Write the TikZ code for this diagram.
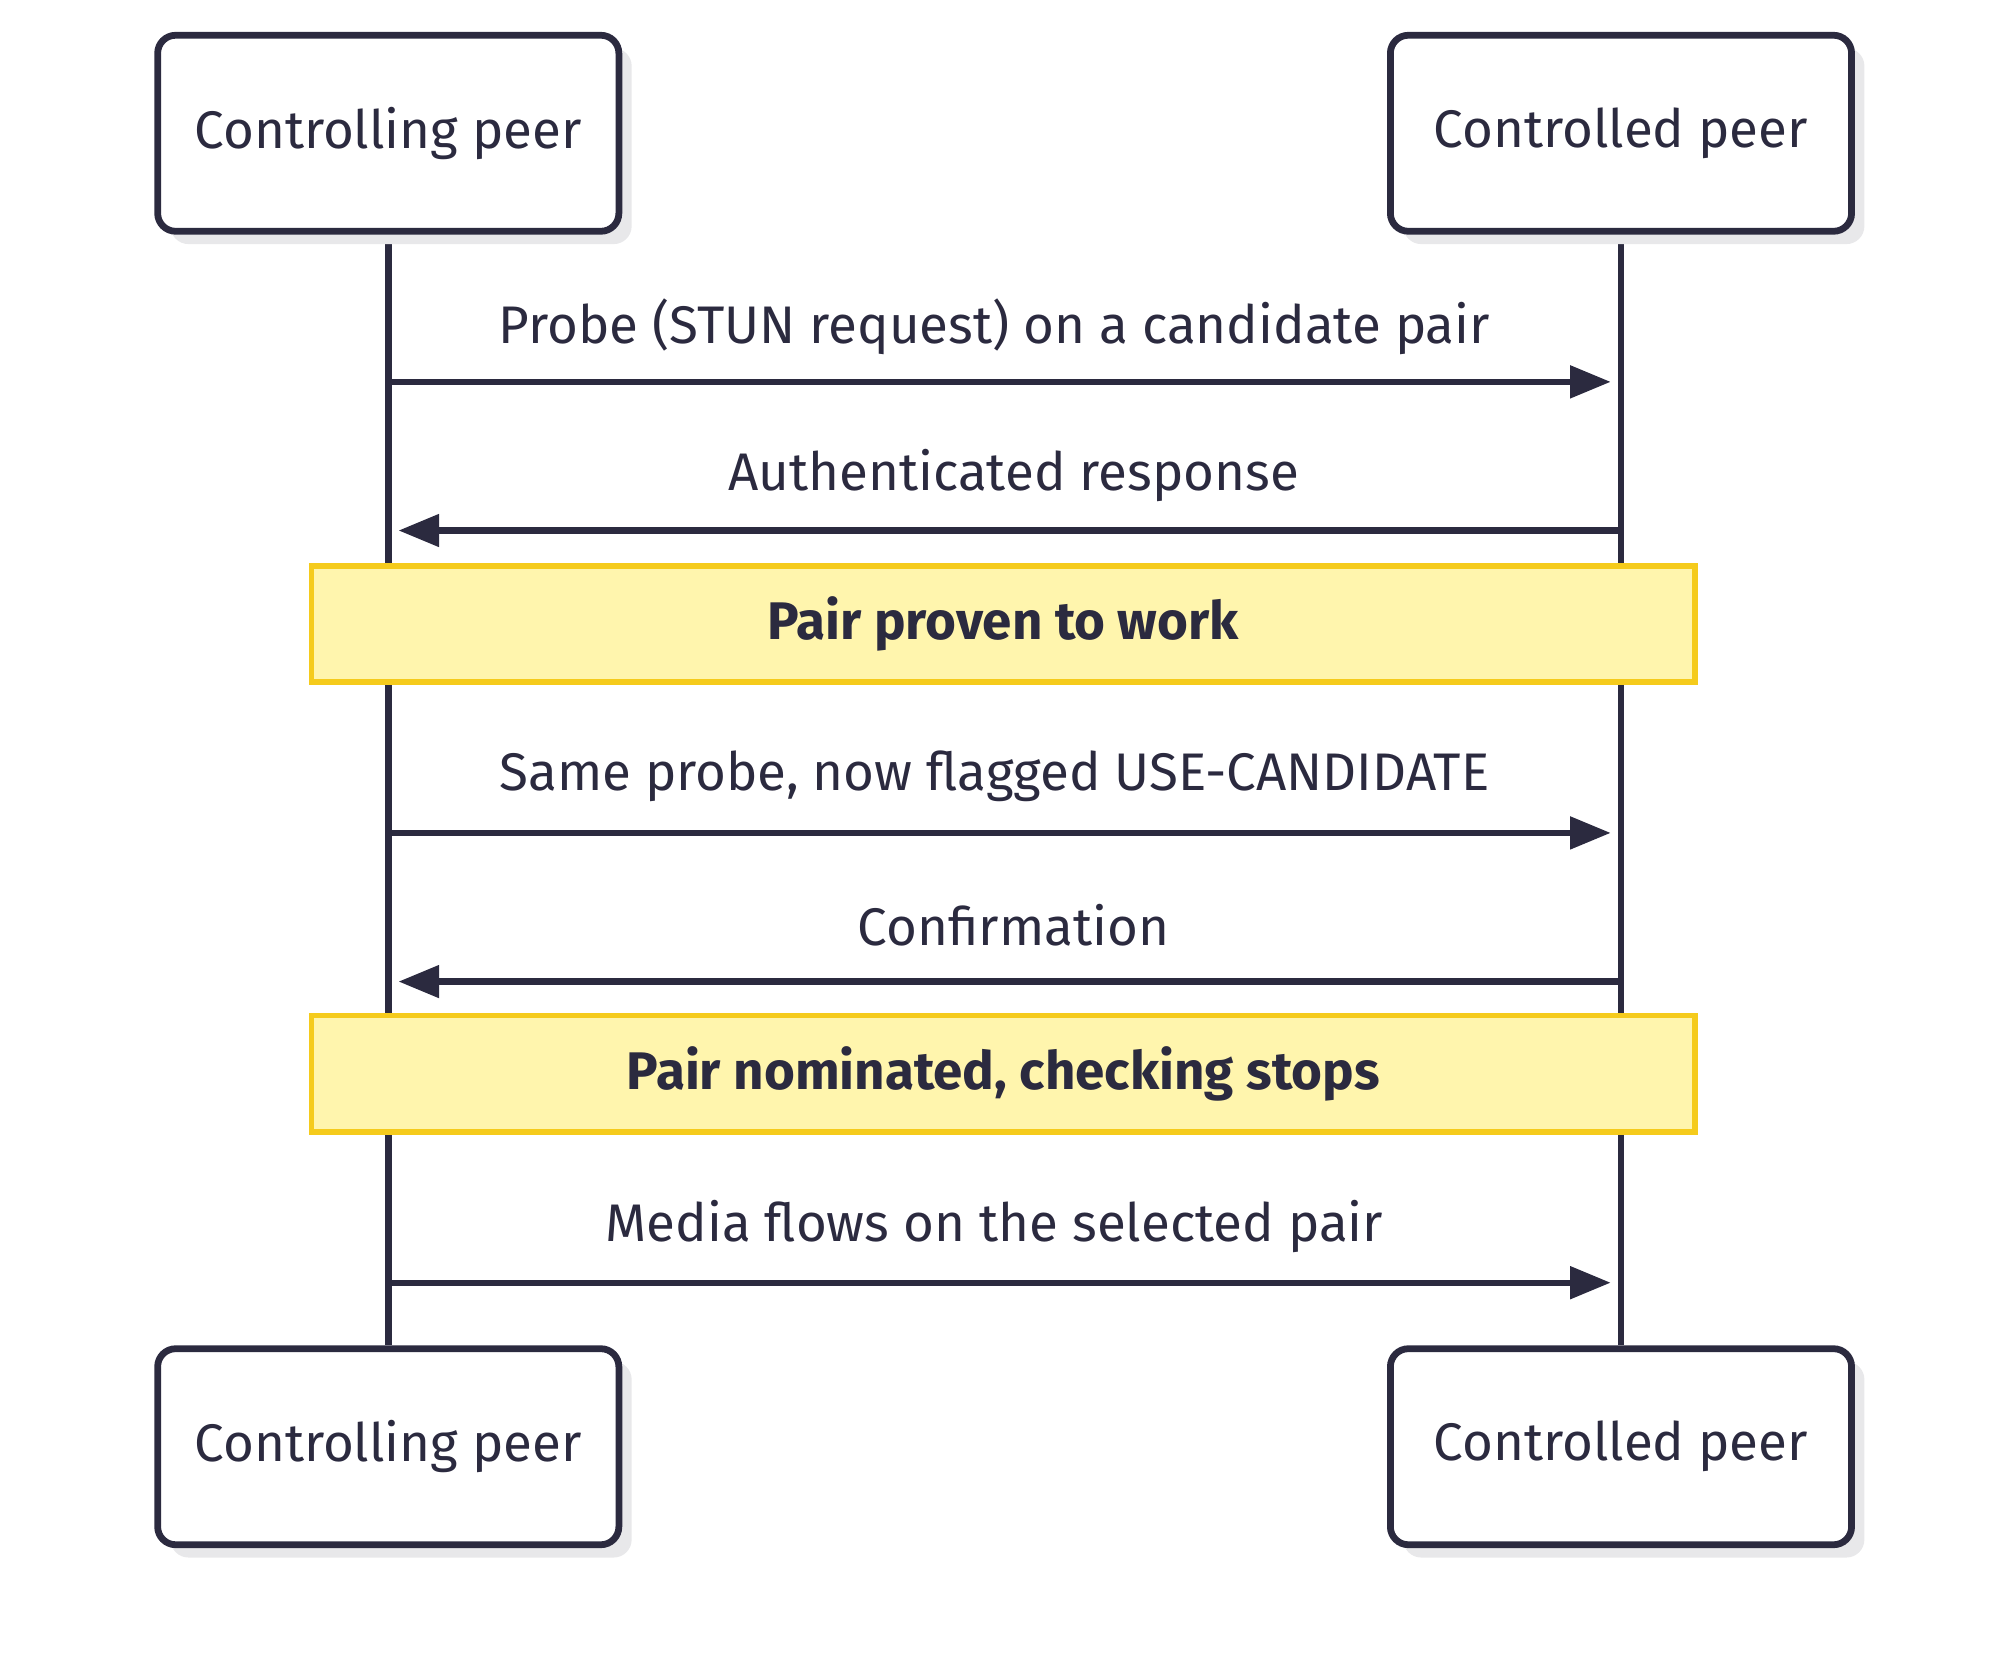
\documentclass[tikz,border=0pt]{standalone}
\usepackage{fontspec}
\setmainfont{Fira Sans}
\usepackage{tikz}
\usetikzlibrary{arrows.meta,positioning,shadows}
\definecolor{ink}{HTML}{2B2A3F}
\definecolor{notefill}{HTML}{FFF5AD}
\definecolor{noteline}{HTML}{F5CB1C}
\definecolor{shade}{HTML}{E8E8EA}
\tikzset{
  peer/.style={draw=ink, line width=3pt, rounded corners=8pt, fill=white,
    minimum width=7.2cm, minimum height=3.06cm, font=\fontsize{23.5}{28}\selectfont, text=ink,
    drop shadow={shadow xshift=0.2cm, shadow yshift=-0.2cm, fill=shade, opacity=1}},
  note/.style={draw=noteline, line width=2.6pt, fill=notefill, minimum width=21.6cm,
    minimum height=1.82cm, font=\fontsize{23.5}{28}\selectfont\bfseries, text=ink},
  msg/.style={draw=ink, line width=2.8pt, -{Triangle[length=18pt,width=14pt]}},
  life/.style={draw=ink, line width=3pt},
  lbl/.style={font=\fontsize{23.5}{28}\selectfont, text=ink}
}
\begin{document}
\begin{tikzpicture}[x=0.02cm,y=-0.02cm]
  \useasboundingbox (0,0) rectangle (1560,1302);
  % lifelines
  \draw[life] (303,183) -- (303,1050);
  \draw[life] (1265,183) -- (1265,1050);
  % actors
  \node[peer] (ctlTop) at (303,104)  {Controlling peer};
  \node[peer] (cedTop) at (1265,104) {Controlled peer};
  \node[peer] (ctlBot) at (303,1129) {Controlling peer};
  \node[peer] (cedBot) at (1265,1129) {Controlled peer};
  % messages
  \coordinate (a1) at (303,298);  \coordinate (b1) at (1257,298);
  \coordinate (a2) at (1265,414); \coordinate (b2) at (311,414);
  \coordinate (a3) at (303,650);  \coordinate (b3) at (1257,650);
  \coordinate (a4) at (1265,766); \coordinate (b4) at (311,766);
  \coordinate (a5) at (303,1001); \coordinate (b5) at (1257,1001);
  \draw[msg] (a1) -- (b1);
  \draw[msg] (a2) -- (b2);
  \draw[msg] (a3) -- (b3);
  \draw[msg] (a4) -- (b4);
  \draw[msg] (a5) -- (b5);
  \node[lbl] (m1) at (776,255) {Probe (STUN request) on a candidate pair};
  \node[lbl] (m2) at (791,371) {Authenticated response};
  \node[lbl] (m3) at (776,606) {Same probe, now flagged USE-CANDIDATE};
  \node[lbl] (m4) at (791,722) {Confirmation};
  \node[lbl] (m5) at (776,957) {Media flows on the selected pair};
  % notes
  \node[note] (n1) at (783,487) {Pair proven to work};
  \node[note] (n2) at (783,838) {Pair nominated, checking stops};
\end{tikzpicture}
\end{document}
